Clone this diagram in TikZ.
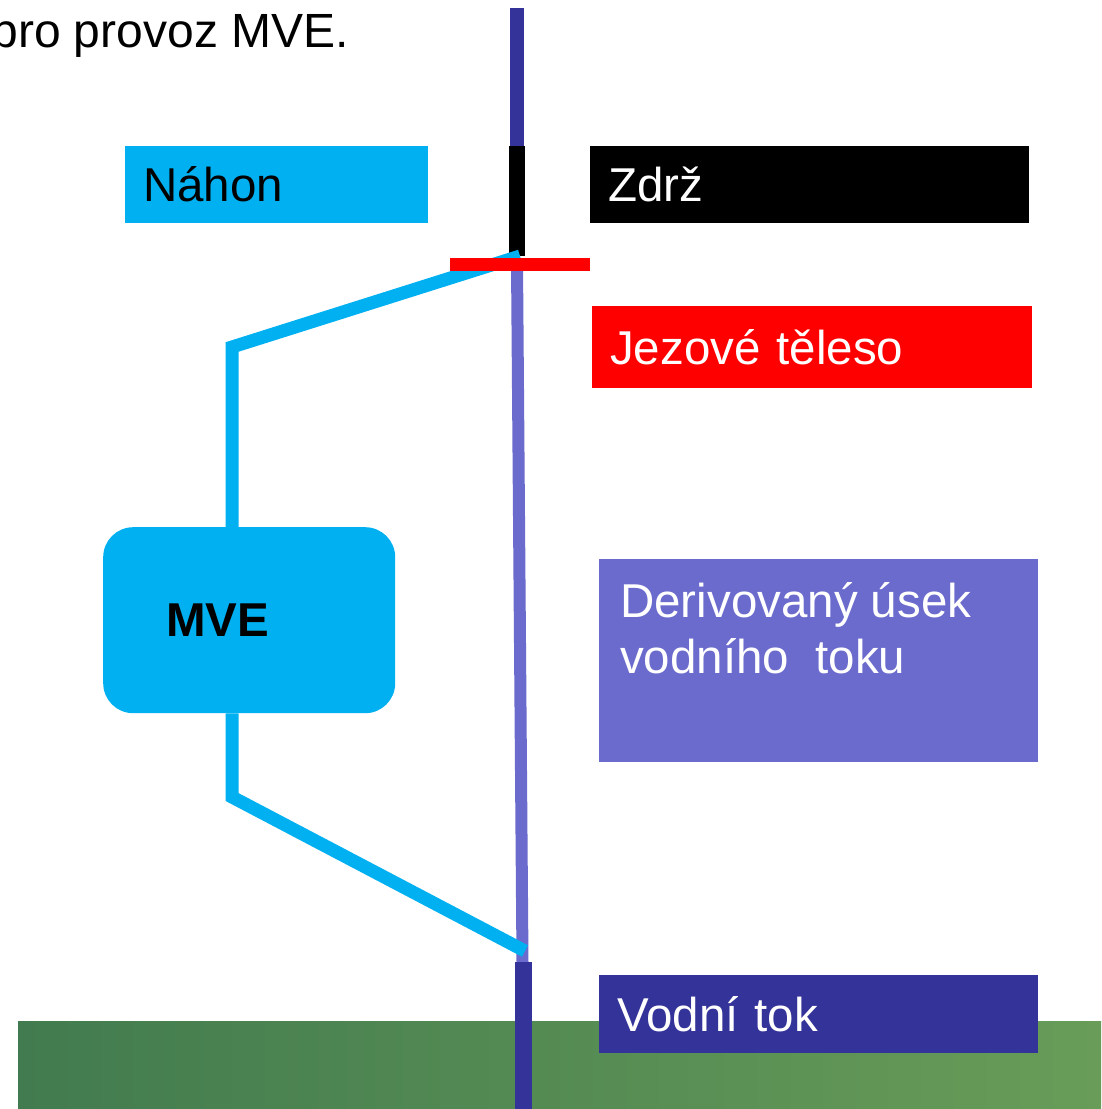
\documentclass[tikz,border=0pt]{standalone}
\usepackage{fontspec}
\setmainfont{Liberation Sans}
\usetikzlibrary{positioning}

\definecolor{nahon}{HTML}{00B0F0}
\definecolor{usek}{HTML}{6B6BCD}
\definecolor{tok}{HTML}{333399}
\definecolor{jez}{HTML}{FF0000}
\definecolor{lukaL}{HTML}{427B4F}
\definecolor{lukaR}{HTML}{689C58}

\newcommand{\bigfont}{\fontsize{47.5}{56}\selectfont}

\tikzset{
  tag/.style={rectangle, anchor=north west, inner xsep=18pt, inner ysep=0pt,
    align=left, minimum height=77pt, text=white, font=\bigfont},
  pipe/.style={draw=nahon, line width=13pt, line join=miter},
  river/.style={draw=tok, line width=14pt}
}

\begin{document}
\begin{tikzpicture}[x=1pt,y=-1pt]
          \useasboundingbox (0,0) rectangle (1101,1109);

          \shade[left color=lukaL, right color=lukaR] (18,1021) rectangle (1101,1109);

          \node[anchor=base east, inner sep=0pt, font=\fontsize{48}{56}\selectfont] (title) at (349,47) {pro provoz MVE.};

          \coordinate (src) at (517,8);
          \coordinate (dam1) at (517,146);
          \coordinate (dam2) at (517,256);
          \coordinate (under) at (517,262);
          \coordinate (tail) at (522.5,962);
          \coordinate (tail2) at (523.5,962);
          \coordinate (mouth) at (523.5,1109);

          \draw[river] (src) -- (dam1);
          \draw[river, draw=black, line width=16pt] (dam1) -- (dam2);
          \draw[river, draw=usek, line width=12pt] (under) -- (tail);
          \draw[river, line width=17pt] (tail2) -- (mouth);

          \node[rectangle, fill=nahon, rounded corners=30pt, anchor=north west,
                minimum height=186pt, text width=166pt, inner xsep=63pt, inner ysep=0pt,
                align=left, font=\bigfont\bfseries] (mve) at (103,527) {MVE};

          \coordinate (intake) at (520,256);
          \coordinate (bend1) at (232,347);
          \coordinate (bend2) at (232,797);
          \coordinate (outlet) at (525,951);

          \draw[pipe] (intake) -- (bend1) -- (bend1 |- mve.north);
          \draw[pipe] (bend2 |- mve.south) -- (bend2) -- (outlet);

          \node[rectangle, fill=jez, minimum width=140pt, minimum height=13pt, inner sep=0pt] (weir) at (520,264) {};

          \node[tag, fill=nahon, text=black, text width=267pt] (nahonbox) at (125,146) {Náhon};
          \node[tag, fill=black, text width=403pt] (zdrz) at (590,146) {Zdrž};
          \node[tag, fill=jez, text width=404pt, minimum height=82pt] (teleso) at (592,306) {Jezové těleso};
          \node[tag, fill=usek, text width=403pt, minimum height=203pt] (usekbox) at (599,559) {};
          \node[anchor=north west, inner sep=0pt, align=left, text=white, font=\bigfont] (usektext)
                at ([shift={(21,23)}]usekbox.north west) {Derivovaný úsek\\vodního\ \ toku};
          \node[tag, fill=tok, text width=403pt, minimum height=78pt] (vodnitok) at (599,975) {Vodní tok};
        \end{tikzpicture}
\end{document}
